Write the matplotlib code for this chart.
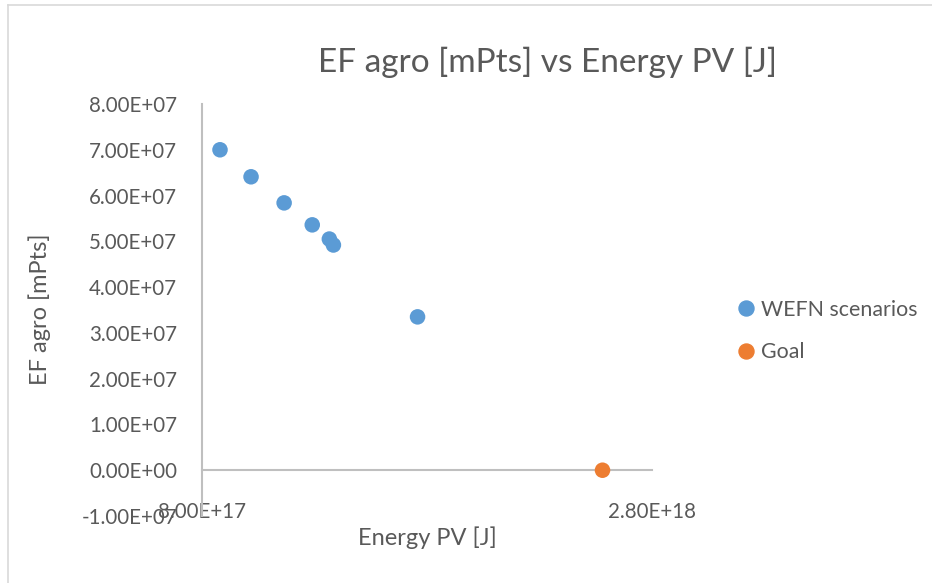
import matplotlib
matplotlib.use("Agg")
import matplotlib.pyplot as plt
from matplotlib.lines import Line2D

plt.rcParams['font.family'] = ['Lato', 'DejaVu Sans']

# Data
wefn_energy = [8.80e17, 1.018e18, 1.165e18, 1.290e18, 1.366e18, 1.384e18, 1.758e18]
wefn_ef = [7.00e7, 6.41e7, 5.84e7, 5.36e7, 5.05e7, 4.92e7, 3.35e7]
goal_energy = [2.58e18]
goal_ef = [0.0]
y_ticks = [-1e7, 0, 1e7, 2e7, 3e7, 4e7, 5e7, 6e7, 7e7, 8e7]
x_ticks = [8.0e17, 2.8e18]
title = "EF agro [mPts] vs Energy PV [J]"
xlabel = "Energy PV [J]"
ylabel = "EF agro [mPts]"
series_names = ["WEFN scenarios", "Goal"]

W, H = 932, 583
fig = plt.figure(figsize=(W / 100, H / 100), dpi=100)
ax = fig.add_axes([202 / W, 1 - 516 / H, (652 - 202) / W, (516 - 104) / H])

blue = '#5B9BD5'
orange = '#ED7D31'
txt = '#595959'
axcol = '#BFBFBF'

ax.scatter(wefn_energy, wefn_ef, s=125, color=blue, edgecolors='none', zorder=3, clip_on=False)
ax.scatter(goal_energy, goal_ef, s=125, color=orange, edgecolors='none', zorder=3, clip_on=False)

ax.set_xlim(x_ticks[0], x_ticks[-1])
ax.set_ylim(y_ticks[0], y_ticks[-1])

for s in ['top', 'right']:
    ax.spines[s].set_visible(False)
ax.spines['bottom'].set_position(('data', 0))
ax.spines['bottom'].set_color(axcol)
ax.spines['left'].set_color(axcol)
ax.spines['bottom'].set_linewidth(1.5)
ax.spines['left'].set_linewidth(1.5)

ax.set_yticks(y_ticks)
ax.set_yticklabels([f"{v:.2E}" for v in y_ticks])
ax.set_xticks(x_ticks)
ax.set_xticklabels([f"{v:.2E}" for v in x_ticks])
ax.tick_params(axis='both', length=0, labelsize=14.8, labelcolor=txt)
ax.tick_params(axis='y', pad=18)
ax.tick_params(axis='x', pad=23)

fig.text(547 / W, 1 - 62 / H, title, ha='center', va='center', fontsize=24, color=txt)
fig.text(427 / W, 1 - 538 / H, xlabel, ha='center', va='center', fontsize=17, color=txt)
fig.text(40 / W, 1 - 309 / H, ylabel, ha='center', va='center', rotation=90, fontsize=17, color=txt)

handles = [Line2D([], [], marker='o', linestyle='none', markersize=10.8, color=blue),
           Line2D([], [], marker='o', linestyle='none', markersize=10.8, color=orange)]
leg = fig.legend(handles, series_names, loc='center left', bbox_to_anchor=(733 / W, 1 - 331 / H),
                 frameon=False, fontsize=15.4, handletextpad=0.1, labelspacing=1.05,
                 handlelength=1.2, borderpad=0, borderaxespad=0)
for t in leg.get_texts():
    t.set_color(txt)

# chart border (left and top visible)
fig.add_artist(Line2D([8 / W, 8 / W], [0, 1 - 5 / H], transform=fig.transFigure, color='#D9D9D9', lw=1.2))
fig.add_artist(Line2D([8 / W, 1], [1 - 5 / H, 1 - 5 / H], transform=fig.transFigure, color='#D9D9D9', lw=1.2))

fig.savefig("out.png", dpi=100, facecolor='white')
